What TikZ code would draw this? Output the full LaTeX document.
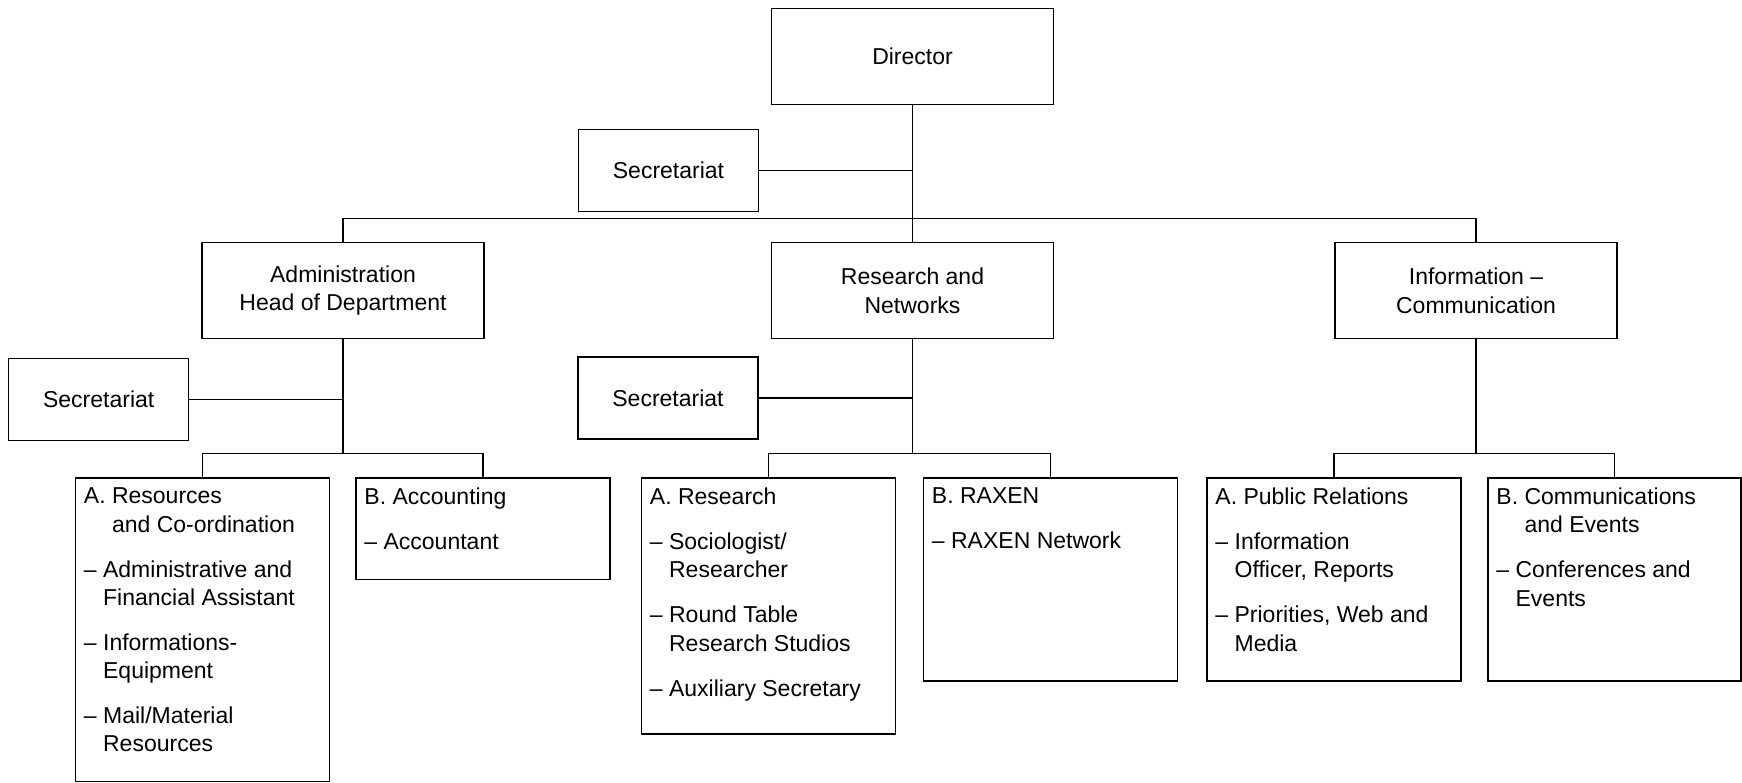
\documentclass[tikz,border=0pt]{standalone}
\usepackage{fontspec}
\setmainfont{Liberation Sans}
\begin{document}
\begin{tikzpicture}[x=1pt,y=-1pt,
  every node/.style={font=\fontsize{23}{28.3}\selectfont},
  box/.style={draw, line width=1.5pt, inner sep=0pt, align=center},
  topbox/.style={box, minimum width=282pt, minimum height=96pt},
  secbox/.style={box, minimum width=180pt, minimum height=82pt},
  unitbox/.style={draw, line width=1.5pt, inner sep=0pt, minimum width=254pt},
  unittext/.style={anchor=north west, inner sep=0pt, align=left},
  link/.style={line width=1.5pt}]
\useasboundingbox (0,0) rectangle (1742,783);
% top level
\node[topbox] (dir) at (912.5,56.7) {Director};
\node[secbox] (sec0) at (668.5,170.7) {Secretariat};
\node[topbox] (adm) at (343,290.7) {Administration\\Head of Department};
\node[topbox] (res) at (912.5,290.7) {Research and\\Networks};
\node[topbox] (info) at (1476,290.7) {Information –\\Communication};
\node[secbox] (sec1) at (98.7,399.5) {Secretariat};
\node[secbox] (sec2) at (668,398) {Secretariat};
% unit boxes
\node[unitbox, minimum height=303.5pt] (adA) at (202.5,629.75) {};
\node[unitbox, minimum height=101.5pt] (adB) at (483,528.75) {};
\node[unitbox, minimum height=256pt] (reA) at (768.5,606) {};
\node[unitbox, minimum height=203pt] (reB) at (1050.5,579.5) {};
\node[unitbox, minimum height=203pt] (inA) at (1334,579.5) {};
\node[unitbox, minimum height=203pt, minimum width=253pt] (inB) at (1614.5,579.5) {};
% unit texts
\node[unittext] (adAt) at ([xshift=9pt,yshift=-10.5pt]adA.north west)
  {A. Resources\\\hphantom{A. }and Co-ordination\\[16.7pt]– Administrative and\\\hphantom{– }Financial Assistant\\[16.7pt]– Informations-\\\hphantom{– }Equipment\\[16.7pt]– Mail/Material\\\hphantom{– }Resources};
\node[unittext] (adBt) at ([xshift=9pt,yshift=-10.5pt]adB.north west)
  {B. Accounting\\[16.7pt]– Accountant};
\node[unittext] (reAt) at ([xshift=9pt,yshift=-10.5pt]reA.north west)
  {A. Research\\[16.7pt]– Sociologist/\\\hphantom{– }Researcher\\[16.7pt]– Round Table\\\hphantom{– }Research Studios\\[16.7pt]– Auxiliary Secretary};
\node[unittext] (reBt) at ([xshift=9pt,yshift=-10.5pt]reB.north west)
  {B. RAXEN\\[16.7pt]– RAXEN Network};
\node[unittext] (inAt) at ([xshift=9pt,yshift=-10.5pt]inA.north west)
  {A. Public Relations\\[16.7pt]– Information\\\hphantom{– }Officer, Reports\\[16.7pt]– Priorities, Web and\\\hphantom{– }Media};
\node[unittext] (inBt) at ([xshift=9pt,yshift=-10.5pt]inB.north west)
  {B. Communications\\\hphantom{B. }and Events\\[16.7pt]– Conferences and\\\hphantom{– }Events};
% bus coordinates
\coordinate (b0) at (912.5,218.3);
\coordinate (ab) at (343,453.5);
\coordinate (rb) at (912.5,453.5);
\coordinate (ib) at (1476,453.5);
% connectors
\draw[link] (dir.south) -- (res.north);
\draw[link] (sec0.east) -- (sec0.east -| dir.south);
\draw[link] (adm.north) |- (b0) -| (info.north);
\draw[link] (adm.south) -- (ab);
\draw[link] (sec1.east) -- (sec1.east -| adm.south);
\draw[link] (adA.north) |- (ab) -| (adB.north);
\draw[link] (res.south) -- (rb);
\draw[link] (sec2.east) -- (sec2.east -| res.south);
\draw[link] (reA.north) |- (rb) -| (reB.north);
\draw[link] (info.south) -- (ib);
\draw[link] (inA.north) |- (ib) -| (inB.north);
\end{tikzpicture}
\end{document}
